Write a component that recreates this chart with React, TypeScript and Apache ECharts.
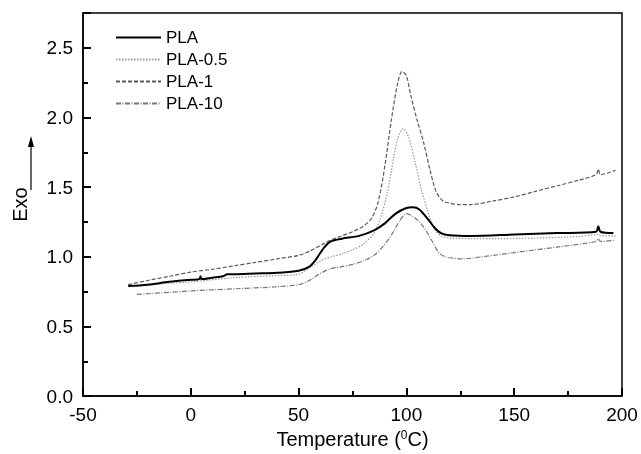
import React, { useEffect, useRef } from "react";
import * as echarts from "echarts";

const xTicks = [-50, 0, 50, 100, 150, 200];
const yTicks = [0, 0.5, 1, 1.5, 2, 2.5];

const seriesNames = ["PLA", "PLA-0.5", "PLA-1", "PLA-10"];

const plaT = [-29, -20, -10, 0, 4, 4.5, 5, 10, 15, 17, 20, 30, 40, 50, 55, 58, 62, 65, 70, 78, 85, 90, 95, 100, 103, 106, 110, 113, 116, 120, 130, 150, 170, 188, 189, 190, 196];
const plaV = [0.79, 0.80, 0.82, 0.835, 0.84, 0.86, 0.84, 0.85, 0.86, 0.875, 0.875, 0.88, 0.885, 0.90, 0.93, 0.98, 1.07, 1.11, 1.13, 1.15, 1.19, 1.24, 1.31, 1.35, 1.355, 1.34, 1.27, 1.21, 1.17, 1.155, 1.15, 1.16, 1.17, 1.18, 1.22, 1.18, 1.17];

const pla05T = [-29, -10, 0, 20, 40, 50, 55, 60, 65, 70, 75, 80, 85, 88, 91, 94, 96, 98.5, 101, 104, 107, 110, 113, 116, 120, 140, 160, 180, 189, 190, 197];
const pla05V = [0.79, 0.81, 0.82, 0.85, 0.865, 0.875, 0.92, 0.97, 1.0, 1.02, 1.05, 1.09, 1.17, 1.28, 1.45, 1.70, 1.85, 1.92, 1.86, 1.68, 1.48, 1.32, 1.20, 1.15, 1.135, 1.13, 1.135, 1.145, 1.16, 1.15, 1.15];

const pla1T = [-29, -20, -10, 0, 10, 20, 30, 40, 50, 55, 60, 65, 70, 75, 80, 84, 87, 90, 93, 96, 98, 100, 102, 105, 108, 111, 114, 117, 120, 125, 130, 140, 150, 160, 170, 180, 188, 189, 190, 197];
const pla1V = [0.80, 0.83, 0.86, 0.89, 0.91, 0.935, 0.96, 0.985, 1.01, 1.04, 1.08, 1.12, 1.15, 1.18, 1.22, 1.28, 1.40, 1.65, 1.98, 2.25, 2.33, 2.30, 2.16, 1.98, 1.82, 1.62, 1.46, 1.40, 1.385, 1.375, 1.375, 1.40, 1.43, 1.47, 1.51, 1.55, 1.59, 1.63, 1.59, 1.62];

const pla10T = [-25, -10, 0, 20, 40, 50, 55, 60, 65, 70, 75, 80, 85, 90, 94, 97, 100, 103, 106, 109, 112, 115, 118, 122, 126, 135, 150, 170, 188, 189, 190, 197];
const pla10V = [0.73, 0.745, 0.755, 0.77, 0.785, 0.80, 0.83, 0.88, 0.915, 0.93, 0.945, 0.97, 1.01, 1.09, 1.18, 1.26, 1.31, 1.29, 1.25, 1.19, 1.11, 1.03, 1.0, 0.99, 0.985, 1.0, 1.03, 1.07, 1.11, 1.13, 1.11, 1.12];

const zip = (a: number[], b: number[]) => a.map((t, i) => [t, b[i]]);

const FONT = "Liberation Sans, Arial, sans-serif";

export default function App() {
  const ref = useRef<HTMLDivElement>(null);
  useEffect(() => {
    if (!ref.current) return;
    const chart = echarts.init(ref.current, null, { renderer: "svg" });
    const lineDefs = [
      { d: zip(plaT, plaV), color: "#000000", width: 2, type: "solid" as any },
      { d: zip(pla05T, pla05V), color: "#999999", width: 1.2, type: [1.5, 1.5] as any },
      { d: zip(pla1T, pla1V), color: "#5a5a5a", width: 1.2, type: [4, 2] as any },
      { d: zip(pla10T, pla10V), color: "#777777", width: 1.2, type: [5, 1.5, 1, 1.5] as any },
    ];
    chart.setOption({
      animation: false,
      grid: {
        left: 83,
        right: 19,
        top: 13,
        bottom: 55,
        show: true,
        borderColor: "#000",
        borderWidth: 1.5,
      },
      legend: {
        orient: "vertical",
        left: 110,
        top: 23,
        itemWidth: 45,
        itemHeight: 14,
        itemGap: 3,
        data: seriesNames,
        itemStyle: { opacity: 0 },
        textStyle: { fontSize: 17, color: "#000", fontFamily: FONT, lineHeight: 19 },
      },
      xAxis: {
        type: "value",
        min: xTicks[0],
        max: xTicks[xTicks.length - 1],
        interval: 50,
        name: "Temperature ({s|0}C)",
        nameLocation: "middle",
        nameGap: 31,
        nameTextStyle: {
          fontSize: 20,
          color: "#000",
          fontFamily: FONT,
          rich: { s: { fontSize: 12, verticalAlign: "top", padding: [0, 0, 8, 0], color: "#000", fontFamily: FONT } },
        },
        axisLine: { show: true, onZero: false, lineStyle: { color: "#000", width: 1.5 } },
        axisTick: { show: true, inside: true, length: 8, lineStyle: { color: "#000", width: 2 } },
        minorTick: { show: true, splitNumber: 2, length: 5, lineStyle: { color: "#000", width: 2 } },
        splitLine: { show: false },
        axisLabel: { fontSize: 19, color: "#000", margin: 9, fontFamily: FONT },
      },
      yAxis: {
        type: "value",
        min: yTicks[0],
        max: 2.75,
        interval: 0.5,
        name: "Exo",
        nameLocation: "middle",
        nameGap: 53,
        nameRotate: 90,
        nameTextStyle: { fontSize: 20, color: "#000", fontFamily: FONT },
        axisLine: { show: true, onZero: false, lineStyle: { color: "#000", width: 1.5 } },
        axisTick: { show: true, inside: true, length: 8, lineStyle: { color: "#000", width: 2 } },
        minorTick: { show: true, splitNumber: 2, length: 5, lineStyle: { color: "#000", width: 2 } },
        splitLine: { show: false },
        axisLabel: {
          fontSize: 19,
          color: "#000",
          margin: 10,
          fontFamily: FONT,
          showMaxLabel: false,
          formatter: (v: number) => v.toFixed(1),
        },
      },
      graphic: [
        { type: "line", shape: { x1: 31, y1: 190, x2: 31, y2: 145 }, style: { stroke: "#000", lineWidth: 1.2 } },
        { type: "polygon", shape: { points: [[31, 136], [28, 147], [34, 147]] }, style: { fill: "#000" } },
      ],
      series: lineDefs.map((l, i) => ({
        name: seriesNames[i],
        type: "line",
        data: l.d,
        showSymbol: false,
        symbol: "none",
        smooth: 0.3,
        lineStyle: { color: l.color, width: l.width, type: l.type },
        itemStyle: { color: l.color },
        z: 4 - i,
      })),
    });
    return () => chart.dispose();
  }, []);
  return (
    <div
      ref={ref}
      style={{ position: "fixed", left: 0, top: 0, width: 641, height: 454 }}
    />
  );
}
